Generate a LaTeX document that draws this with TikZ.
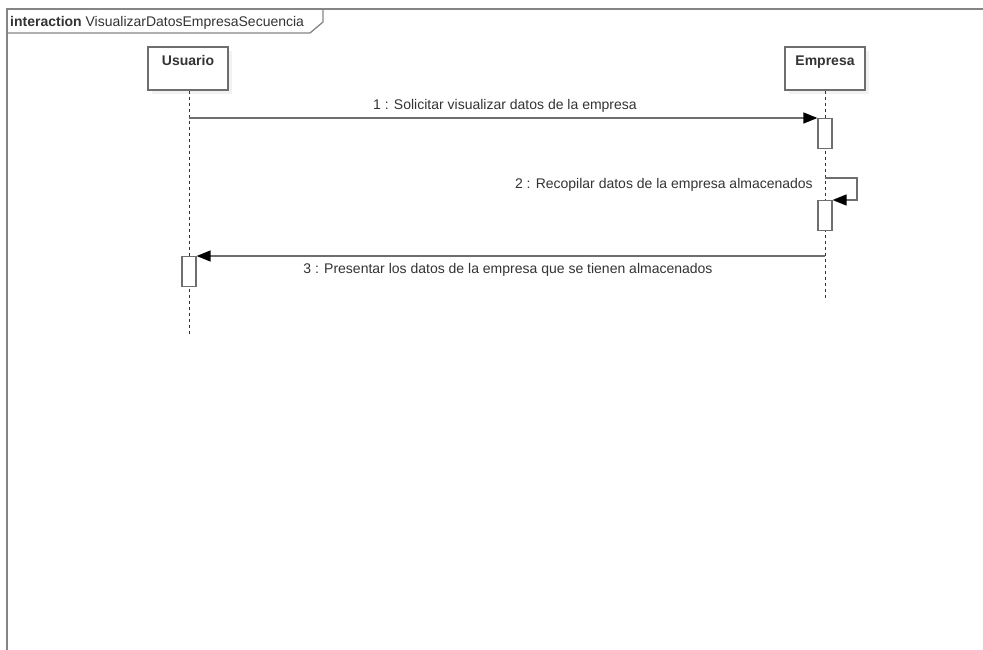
\documentclass[tikz,border=0pt]{standalone}
\usepackage{fontspec}
\setmainfont{Liberation Sans}
\usetikzlibrary{arrows.meta, shadows}

\definecolor{umlline}{HTML}{6E6E6E}
\definecolor{umltext}{HTML}{333333}
\definecolor{umlframe}{HTML}{858585}

\tikzset{
    actor/.style={draw=umlline, line width=1.4pt, fill=white, minimum width=80pt,
        inner ysep=8pt, text height=11pt, text depth=16pt, font=\bfseries\fontsize{14}{16}\selectfont,
        text=umltext, drop shadow={shadow xshift=4pt, shadow yshift=-4pt, fill=gray!20}},
    activation/.style={draw=umlline, line width=1.2pt, fill=white, minimum width=14pt,
        minimum height=30pt, inner sep=0pt, anchor=north},
    lifeline/.style={draw=black!80, line width=0.9pt, dash pattern=on 3pt off 3pt},
    msg/.style={draw=umlline, line width=1.3pt, -{Triangle[length=14pt, width=11pt, color=black]}},
    msgtext/.style={text=umltext, font=\fontsize{14}{16}\selectfont, inner sep=0pt}
}

\begin{document}
\begin{tikzpicture}[x=1pt, y=-1pt]
    \useasboundingbox (0,0) rectangle (983,650);

    % Frame of the interaction
    \draw[umlframe, line width=1.6pt] (7,652) -- (7,9) -- (985,9);
    \draw[umlframe, line width=1.3pt] (7,33) -- (310,33) -- (323,22) -- (323,9);
    \node[anchor=base west, inner sep=0pt, text=umltext, font=\fontsize{14}{16}\selectfont]
        (title) at (10,27) {\textbf{interaction} VisualizarDatosEmpresaSecuencia};

    % Lifelines
    \node[actor] (usuario) at (188,68.5) {Usuario};
    \node[actor] (empresa) at (825,68.5) {Empresa};
    \coordinate (usuarioend) at (189,335);
    \coordinate (empresaend) at (825,300);
    \draw[lifeline] (usuario.south -| usuarioend) -- (usuarioend);
    \draw[lifeline] (empresa.south -| empresaend) -- (empresaend);

    % Activations
    \node[activation] (act1) at (825,118) {};
    \node[activation] (act2) at (825,200) {};
    \node[activation] (act3) at (189,256) {};

    % 1 : request
    \coordinate (m1) at (189,118);
    \draw[msg] (m1) -- (act1.north west);
    \node[msgtext, anchor=base] (label1) at (505,110) {1 : Solicitar visualizar datos de la empresa};

    % 2 : self message
    \coordinate (m2) at (825,178);
    \draw[msg] (m2) -- ++(32,0) |- (act2.north east);
    \node[msgtext, anchor=base east] (label2) at (813,189) {2 : Recopilar datos de la empresa almacenados};

    % 3 : answer
    \coordinate (m3) at (825,256);
    \draw[msg] (m3) -- (act3.north east);
    \node[msgtext, anchor=base] (label3) at (508,273) {3 : Presentar los datos de la empresa que se tienen almacenados};
\end{tikzpicture}
\end{document}
